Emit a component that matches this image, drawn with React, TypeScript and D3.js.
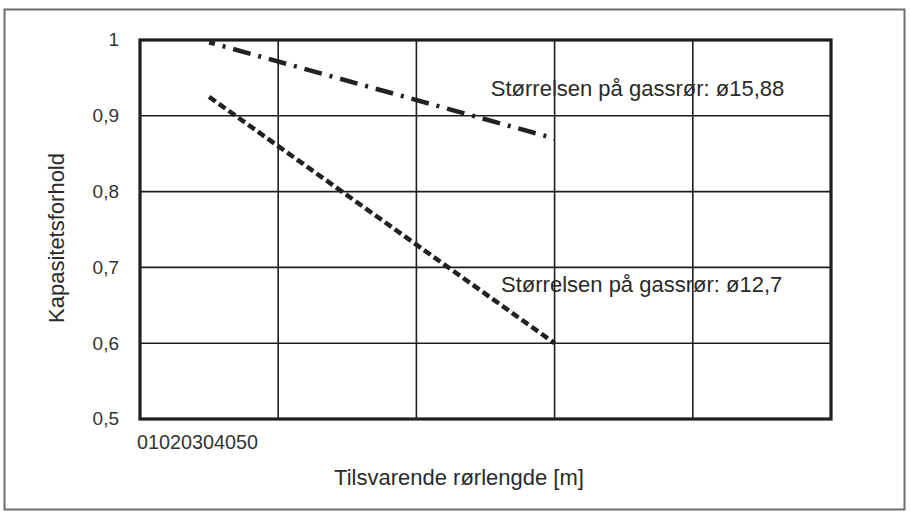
import React, { useEffect, useRef } from 'react';
import * as d3 from 'd3';

// x values in metres, y values as capacity ratio
const xTicks = [0, 10, 20, 30, 40, 50];
const yTicks = [0.5, 0.6, 0.7, 0.8, 0.9, 1];

const seriesNames = ['Størrelsen på gassrør: ø15,88', 'Størrelsen på gassrør: ø12,7'];
const pipe1588 = [
  { x: 5, y: 0.997 },
  { x: 30, y: 0.87 },
];
const pipe127 = [
  { x: 5, y: 0.925 },
  { x: 30, y: 0.6 },
];
// where the series labels sit, in data units
const labelPos = [
  { x: 36, y: 0.926 },
  { x: 36.3, y: 0.667 },
];

const App: React.FC = () => {
  const chartRef = useRef<SVGSVGElement | null>(null);

  useEffect(() => {
    const width = 910;
    const height = 515;
    const plot = { left: 140, right: 831, top: 40, bottom: 419 };
    const font = '"Liberation Sans", Arial, sans-serif';
    const ink = '#1e1e1e';

    const svg = d3.select(chartRef.current);
    svg.selectAll('*').remove();
    svg.attr('width', width).attr('height', height);

    svg.append('rect')
      .attr('width', width)
      .attr('height', height)
      .attr('fill', 'white');

    // outer frame
    svg.append('rect')
      .attr('x', 4.5)
      .attr('y', 9.5)
      .attr('width', 900)
      .attr('height', 500)
      .attr('fill', 'none')
      .attr('stroke', '#6e6e6e')
      .attr('stroke-width', 2);

    const x = d3.scaleLinear().domain([0, 50]).range([plot.left, plot.right]);
    const y = d3.scaleLinear().domain([0.5, 1]).range([plot.bottom, plot.top]);

    // grid
    svg.append('g')
      .selectAll('line')
      .data(xTicks.slice(1, -1))
      .enter().append('line')
      .attr('x1', d => x(d))
      .attr('x2', d => x(d))
      .attr('y1', plot.top)
      .attr('y2', plot.bottom)
      .attr('stroke', ink)
      .attr('stroke-width', 1.6);

    svg.append('g')
      .selectAll('line')
      .data(yTicks.slice(1, -1))
      .enter().append('line')
      .attr('x1', plot.left)
      .attr('x2', plot.right)
      .attr('y1', d => y(d))
      .attr('y2', d => y(d))
      .attr('stroke', ink)
      .attr('stroke-width', 1.6);

    svg.append('rect')
      .attr('x', plot.left)
      .attr('y', plot.top)
      .attr('width', plot.right - plot.left)
      .attr('height', plot.bottom - plot.top)
      .attr('fill', 'none')
      .attr('stroke', ink)
      .attr('stroke-width', 3.2);

    // y tick labels
    svg.append('g')
      .selectAll('text')
      .data(yTicks)
      .enter().append('text')
      .attr('x', plot.left - 21)
      .attr('y', d => y(d))
      .attr('dy', '0.34em')
      .attr('text-anchor', 'end')
      .style('font-family', font)
      .style('font-size', '19px')
      .style('fill', '#333')
      .text(d => (d === 1 ? '1' : d3.format('.1f')(d).replace('.', ',')));

    // x tick labels, all run together like the original
    svg.append('text')
      .attr('x', x(0) - 3)
      .attr('y', 449)
      .style('font-family', font)
      .style('font-size', '19.8px')
      .style('fill', '#333')
      .text(xTicks.join(''));

    const line = d3.line<{ x: number; y: number }>()
      .x(d => x(d.x))
      .y(d => y(d.y));

    svg.append('path')
      .datum(pipe1588)
      .attr('d', line)
      .attr('fill', 'none')
      .attr('stroke', '#222')
      .attr('stroke-width', 4.5)
      .attr('stroke-dasharray', '18,8,3,8')
      .attr('stroke-dashoffset', 12);

    svg.append('path')
      .datum(pipe127)
      .attr('d', line)
      .attr('fill', 'none')
      .attr('stroke', '#222')
      .attr('stroke-width', 4.5)
      .attr('stroke-dasharray', '8,4');

    seriesNames.forEach((name, i) => {
      svg.append('text')
        .attr('x', x(labelPos[i].x))
        .attr('y', y(labelPos[i].y))
        .attr('text-anchor', 'middle')
        .style('font-family', font)
        .style('font-size', '22px')
        .style('fill', '#2a2a2a')
        .text(name);
    });

    svg.append('text')
      .attr('x', 459)
      .attr('y', 485)
      .attr('text-anchor', 'middle')
      .style('font-family', font)
      .style('font-size', '22px')
      .style('fill', '#2a2a2a')
      .text('Tilsvarende rørlengde [m]');

    svg.append('text')
      .attr('transform', 'translate(64,238) rotate(-90)')
      .attr('text-anchor', 'middle')
      .style('font-family', font)
      .style('font-size', '22px')
      .style('fill', '#2a2a2a')
      .text('Kapasitetsforhold');
  }, []);

  return (
    <svg ref={chartRef} style={{ position: 'absolute', left: 0, top: 0 }}></svg>
  );
};

export default App;
